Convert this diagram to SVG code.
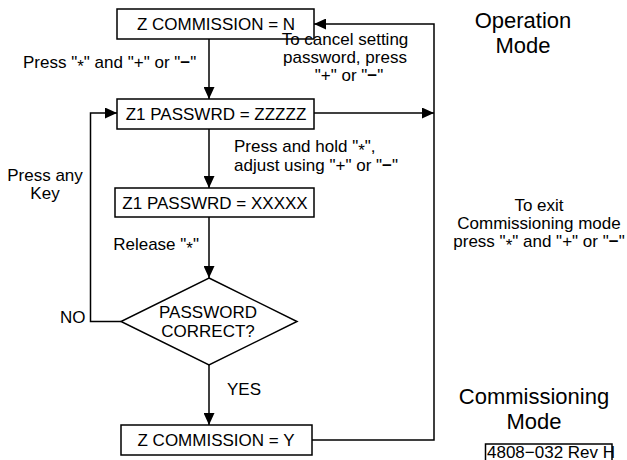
<svg xmlns="http://www.w3.org/2000/svg" width="627" height="460" viewBox="0 0 627 460">
<defs>
<marker id="ah" viewBox="0 0 12 11" refX="12" refY="5.5" markerWidth="12" markerHeight="11" markerUnits="userSpaceOnUse" orient="auto">
<path d="M0,0 L12,5.5 L0,11 Z" fill="#000"/>
</marker>
<style>
text{font-family:"Liberation Sans",Arial,sans-serif;font-size:17px;fill:#000}
.c{text-anchor:middle}
.big{font-size:22px}
.box{fill:#fff;stroke:#000;stroke-width:1.5}
.ln{fill:none;stroke:#000;stroke-width:1.5}
.b{font-weight:bold}
</style>
</defs>
<rect width="627" height="460" fill="#fff"/>
<g id="connectors">
<path class="ln" d="M209,39 V99" marker-end="url(#ah)"/>
<path class="ln" d="M209,129 V188" marker-end="url(#ah)"/>
<path class="ln" d="M209,217 V278" marker-end="url(#ah)"/>
<path class="ln" d="M209,365 V425" marker-end="url(#ah)"/>
<path class="ln" d="M121,321.5 H90.5 V113 H117" marker-end="url(#ah)"/>
<path class="ln" d="M314,113 H434" marker-end="url(#ah)"/>
<path class="ln" d="M312,440 H434 V24 H314" marker-end="url(#ah)"/>
</g>
<g id="n_comm_n">
<rect class="box" x="117" y="9" width="197" height="30"/>
<text class="c" x="216" y="30">Z COMMISSION = N</text>
</g>
<g id="n_pass_z">
<rect class="box" x="117" y="99" width="197" height="30"/>
<text class="c" x="216" y="120">Z1 PASSWRD = ZZZZZ</text>
</g>
<g id="n_pass_x">
<rect class="box" x="115" y="188" width="199" height="29"/>
<text class="c" x="215" y="208.5">Z1 PASSWRD = XXXXX</text>
</g>
<g id="n_decision">
<polygon class="box" points="209,278 297,321.5 209,365 121,321.5"/>
<text class="c" x="208" y="318">PASSWORD</text>
<text class="c" x="208" y="337">CORRECT?</text>
</g>
<g id="n_comm_y">
<rect class="box" x="121" y="425" width="191" height="30"/>
<text class="c" x="216" y="446">Z COMMISSION = Y</text>
</g>
<g id="labels">
<text x="23" y="68">Press "<tspan dy="4">*</tspan><tspan dy="-4">"</tspan> and "+" or "<tspan class="b">−</tspan>"</text>
<text class="c" x="345" y="45">To cancel setting</text>
<text class="c" x="345" y="63">password, press</text>
<text class="c" x="349" y="81">"+" or "<tspan class="b">−</tspan>"</text>
<text x="234" y="152">Press and hold "<tspan dy="4">*</tspan><tspan dy="-4">",</tspan></text>
<text x="234" y="171">adjust using "+" or "<tspan class="b">−</tspan>"</text>
<text class="c" x="45" y="181">Press any</text>
<text class="c" x="45" y="199">Key</text>
<text x="199" y="250" text-anchor="end">Release "<tspan dy="4">*</tspan><tspan dy="-4">"</tspan></text>
<text x="60" y="323">NO</text>
<text x="227" y="395">YES</text>
<text class="c" x="539" y="211">To exit</text>
<text class="c" x="539" y="229">Commissioning mode</text>
<text class="c" x="539" y="247">press "<tspan dy="4">*</tspan><tspan dy="-4">"</tspan> and "+" or "<tspan class="b">−</tspan>"</text>
<text class="c big" x="523" y="28">Operation</text>
<text class="c big" x="523" y="53">Mode</text>
<text class="c big" x="534" y="404">Commissioning</text>
<text class="c big" x="534" y="429">Mode</text>
</g>
<g id="ref">
<path class="ln" d="M485.5,460 V444 H612 V460" stroke-width="1"/>
<text x="487" y="457.5" style="font-size:17px">4808−032 Rev H</text>
</g>
</svg>
